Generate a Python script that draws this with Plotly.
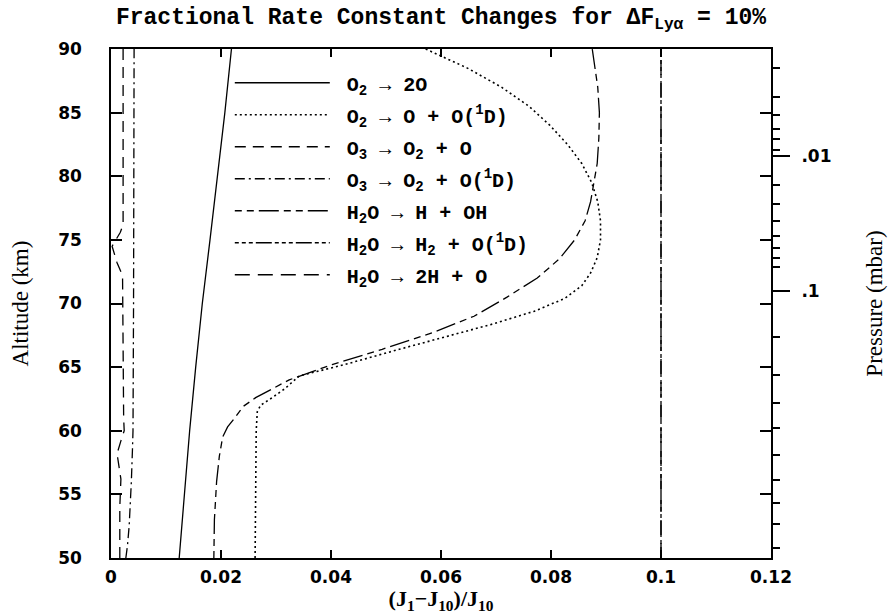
import plotly.graph_objects as go

# ---------------- data ----------------
# O2 -> 2O  (solid)
ALT_O2_2O = [50, 55, 60, 65, 70, 75, 80, 85, 90]
VAL_O2_2O = [0.0124, 0.0133, 0.0143, 0.0154, 0.0166, 0.0180, 0.0194, 0.0207, 0.0219]

# O2 -> O + O(1D)  (dotted)
ALT_O2_O1D = [50, 56, 60, 61.5, 62.0, 62.6, 63.3, 64.3, 65.3, 66.4, 67.4, 68.4, 69.4,
              70.4, 71.4, 72.4, 73.6, 75.0, 76.5, 78.0, 79.5, 81.0, 82.5, 84.0, 85.5,
              87.0, 88.5, 90.0]
VAL_O2_O1D = [0.0262, 0.0263, 0.0264, 0.0266, 0.0272, 0.0293, 0.0316, 0.0342, 0.0433,
              0.0524, 0.0610, 0.0695, 0.0770, 0.0825, 0.0856, 0.0872, 0.0884, 0.0890,
              0.0890, 0.0885, 0.0874, 0.0856, 0.0830, 0.0798, 0.0760, 0.0710, 0.0648,
              0.0572]

# O3 -> O2 + O  (dashed)
ALT_O3_O = [50, 54, 56.2, 57.2, 58.2, 59.2, 60, 61, 65, 72.2, 73.2, 74.5, 75.6, 76.2, 80, 90]
VAL_O3_O = [0.0016, 0.0016, 0.0018, 0.0015, 0.0011, 0.0018, 0.0024, 0.0023, 0.0022,
            0.0021, 0.0011, 0.0002, 0.0017, 0.0022, 0.0022, 0.0022]

# O3 -> O2 + O(1D)  (dash-dot)
ALT_O3_O1D = [50, 51, 52.5, 54.6, 56, 58.5, 60, 70, 80, 90]
VAL_O3_O1D = [0.0027, 0.0030, 0.0033, 0.0036, 0.0037, 0.0039, 0.0040, 0.0041, 0.0042, 0.0042]

# H2O -> H + OH
ALT_H2O_OH = [50, 53, 56, 58, 59.5, 60.3, 61.0, 61.9, 62.6, 63.3, 64.0, 65.2, 66.4, 67.7,
              69.0, 70.5, 72.0, 73.5, 75.0, 76.5, 78.0, 79.5, 81.0, 83.0, 85.0, 87.0,
              88.5, 90]
VAL_H2O_OH = [0.0187, 0.0188, 0.0192, 0.0197, 0.0203, 0.0212, 0.0225, 0.0240, 0.0263,
              0.0293, 0.0324, 0.0402, 0.0493, 0.0584, 0.0660, 0.0720, 0.0775, 0.0815,
              0.0843, 0.0862, 0.0872, 0.0878, 0.0884, 0.0887, 0.0888, 0.0885, 0.0880,
              0.0875]

# H2O -> H2 + O(1D)
ALT_H2O_H2 = [50, 60, 70, 80, 90]
VAL_H2O_H2 = [0.100, 0.100, 0.100, 0.100, 0.100]

# H2O -> 2H + O
ALT_H2O_2H = [50, 60, 70, 80, 90]
VAL_H2O_2H = [0.100, 0.100, 0.100, 0.100, 0.100]

# pressure axis (right): altitude positions of pressure ticks
PRESSURE_LABELS = [".01", ".1"]
PRESSURE_MAJOR_ALT = [81.6, 71.0]
PRESSURE_MINOR_ALT = [88.5, 86.2, 84.8, 83.7, 82.9, 82.1, 79.3, 77.8, 76.5, 75.3, 74.4,
                      73.6, 72.9, 67.4, 64.4, 62.2, 60.2, 58.1, 56.1, 54.3, 52.7, 50.8]

X_TICKS = [0, 0.02, 0.04, 0.06, 0.08, 0.1, 0.12]
X_TICK_TEXT = ["0", "0.02", "0.04", "0.06", "0.08", "0.1", "0.12"]
Y_TICKS = [50, 55, 60, 65, 70, 75, 80, 85, 90]

NAMES = [
    "O<sub>2</sub> → 2O",
    "O<sub>2</sub> → O + O(<sup>1</sup>D)",
    "O<sub>3</sub> → O<sub>2</sub> + O",
    "O<sub>3</sub> → O<sub>2</sub> + O(<sup>1</sup>D)",
    "H<sub>2</sub>O → H + OH",
    "H<sub>2</sub>O → H<sub>2</sub> + O(<sup>1</sup>D)",
    "H<sub>2</sub>O → 2H + O",
]
DASHES = [
    "solid",
    "2px,3px",
    "11px,7px",
    "10px,4px,2px,4px",
    "7px,5px,7px,5px,20px,5px",
    "4px,3px,4px,3px,4px,3px,16px,3px",
    "15px,8px",
]

SERIES = [
    (VAL_O2_2O, ALT_O2_2O),
    (VAL_O2_O1D, ALT_O2_O1D),
    (VAL_O3_O, ALT_O3_O),
    (VAL_O3_O1D, ALT_O3_O1D),
    (VAL_H2O_OH, ALT_H2O_OH),
    (VAL_H2O_H2, ALT_H2O_H2),
    (VAL_H2O_2H, ALT_H2O_2H),
]

MONO = "Liberation Mono"
TICKFONT = dict(family="DejaVu Sans", size=17, color="black", weight="bold")
SERIF = "Liberation Serif"

fig = go.Figure()
for i, ((xs, ys), name, dash) in enumerate(zip(SERIES, NAMES, DASHES)):
    fig.add_trace(go.Scatter(
        x=xs, y=ys, mode="lines", name="\u00a0" + name, legendgroup=f"g{i}",
        line=dict(color="black", width=1.3 if dash != "2px,3px" else 1.6, dash=dash),
        hoverinfo="skip",
    ))

# carrier for the pressure axis
fig.add_trace(go.Scatter(x=[None] * len(PRESSURE_MAJOR_ALT), y=PRESSURE_MAJOR_ALT,
                         yaxis="y2", mode="lines", showlegend=False, hoverinfo="skip"))

fig.update_layout(
    width=892, height=614,
    margin=dict(l=111, r=121, t=49, b=56, autoexpand=False),
    paper_bgcolor="white", plot_bgcolor="white",
    title=dict(
        text="Fractional Rate Constant Changes for ΔF<sub>Lyα</sub> = 10%",
        font=dict(family=MONO, size=23, color="black", weight="bold"),
        x=0.5, xanchor="center", xref="paper",
        y=1 - 16 / 614, yanchor="middle", yref="container",
    ),
    xaxis=dict(
        range=[0, 0.12], tickvals=X_TICKS, ticktext=X_TICK_TEXT,
        showgrid=False, zeroline=False, automargin=False,
        showline=True, linecolor="black", linewidth=1.6, mirror="ticks",
        ticks="inside", ticklen=8, tickwidth=1.5, tickcolor="black",
        tickfont=TICKFONT, ticklabelstandoff=3,
        title=dict(text="(J<sub>1</sub>−J<sub>10</sub>)/J<sub>10</sub>",
                   font=dict(family=SERIF, size=22, color="black", weight="bold"),
                   standoff=10),
    ),
    yaxis=dict(
        range=[50, 90], tickvals=Y_TICKS,
        showgrid=False, zeroline=False, automargin=False,
        showline=True, linecolor="black", linewidth=1.6, mirror="ticks",
        ticks="inside", ticklen=11, tickwidth=1.5, tickcolor="black",
        tickfont=TICKFONT, ticklabelstandoff=24,
        title=dict(text="Altitude (km)",
                   font=dict(family=SERIF, size=23, color="black"),
                   standoff=23),
    ),
    yaxis2=dict(
        overlaying="y", side="right", anchor="x", automargin=False,
        range=[50, 90], tickvals=PRESSURE_MAJOR_ALT, ticktext=PRESSURE_LABELS,
        showgrid=False, zeroline=False, showline=False,
        ticks="outside", ticklen=18, tickwidth=1.5, tickcolor="black",
        tickfont=TICKFONT, ticklabelstandoff=8,
        minor=dict(tickmode="array", tickvals=PRESSURE_MINOR_ALT, ticks="outside",
                   ticklen=8, tickwidth=1.5, tickcolor="black", showgrid=False),
        title=dict(text="Pressure (mbar)",
                   font=dict(family=SERIF, size=23, color="black"),
                   standoff=35),
    ),
    legend=dict(
        x=0.18, y=0.972, xanchor="left", yanchor="top",
        bgcolor="rgba(0,0,0,0)", borderwidth=0,
        font=dict(family=MONO, size=20, color="black", weight="bold"),
        itemwidth=95, tracegroupgap=3, traceorder="grouped",
    ),
    showlegend=True,
)

fig.write_html("out.html")
